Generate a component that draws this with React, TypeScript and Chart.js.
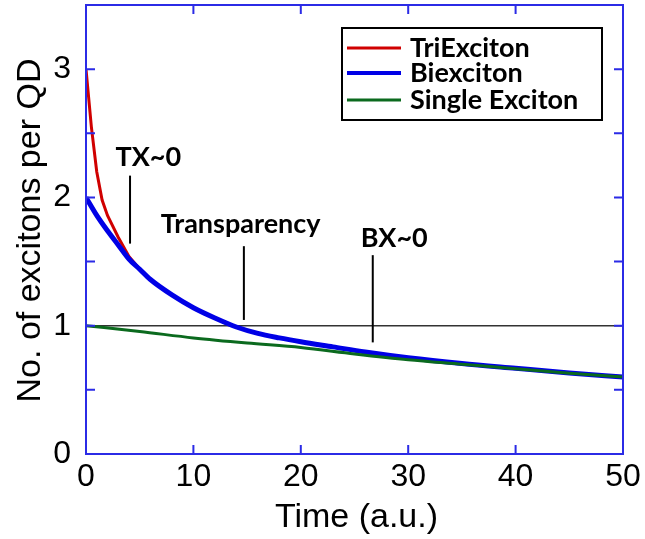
import React, { useEffect, useRef } from 'react';
import { Chart, registerables } from 'chart.js';
Chart.register(...registerables);

// ---- data ----
const triTime = [0, 0.5, 1, 1.5, 2, 3, 4, 5, 6];
const triValues = [3.0, 2.55, 2.2, 1.98, 1.86, 1.69, 1.54, 1.44, 1.36];

const biTime = [0, 1, 2, 3, 4, 5, 6, 8, 10, 12, 14, 16, 18, 20, 23, 26, 30, 35, 40, 45, 50];
const biValues = [2.0, 1.86, 1.74, 1.63, 1.52, 1.44, 1.36, 1.24, 1.14, 1.06, 0.99, 0.94, 0.905, 0.875, 0.835, 0.795, 0.75, 0.705, 0.668, 0.632, 0.6];

const singleTime = [0, 5, 10, 15, 20, 25, 30, 35, 40, 45, 50];
const singleValues = [1.0, 0.955, 0.905, 0.865, 0.83, 0.78, 0.735, 0.7, 0.665, 0.63, 0.6];

const refTime = [0, 50];
const refValues = [1, 1];

const seriesNames = ['TriExciton', 'Biexciton', 'Single Exciton'];
const seriesColors = ['#d00000', '#0000e6', '#0b6a1e'];

const markerLabels = ['TX~0', 'Transparency', 'BX~0'];
const markerTime = [4.1, 14.7, 26.7];
const markerTop = [2.17, 1.62, 1.55];
const markerBottom = [1.64, 1.045, 0.87];
const markerLabelTime = [5.8, 14.4, 28.7];
const markerLabelValue = [2.245, 1.722, 1.616];

const xTicks = [0, 10, 20, 30, 40, 50];
const yTicks = [0, 0.5, 1, 1.5, 2, 2.5, 3, 3.5];

const toXY = (t: number[], v: number[]) => t.map((x, i) => ({ x, y: v[i] }));

const AXIS_BLUE = '#2b2be6';
const TICK_FONT = '"Liberation Sans", Arial, sans-serif';
const BOLD_FONT = 'Lato, "Open Sans", sans-serif';

const decorPlugin = {
  id: 'decor',
  afterDatasetsDraw(chart: any) {
    const { ctx, chartArea, scales } = chart;
    const xs = scales.x;
    const ys = scales.y;
    ctx.save();

    // marker lines
    ctx.strokeStyle = '#000';
    ctx.lineWidth = 2;
    markerTime.forEach((t, i) => {
      const px = xs.getPixelForValue(t);
      ctx.beginPath();
      ctx.moveTo(px, ys.getPixelForValue(markerTop[i]));
      ctx.lineTo(px, ys.getPixelForValue(markerBottom[i]));
      ctx.stroke();
    });
    // marker labels
    ctx.fillStyle = '#000';
    ctx.font = `bold 27px ${BOLD_FONT}`;
    ctx.textAlign = 'center';
    ctx.textBaseline = 'alphabetic';
    markerLabels.forEach((s, i) => {
      ctx.fillText(s, xs.getPixelForValue(markerLabelTime[i]), ys.getPixelForValue(markerLabelValue[i]));
    });

    // frame
    ctx.strokeStyle = AXIS_BLUE;
    ctx.lineWidth = 2;
    ctx.strokeRect(chartArea.left, chartArea.top, chartArea.right - chartArea.left, chartArea.bottom - chartArea.top);
    const tl = 9;
    ctx.beginPath();
    xTicks.forEach((t) => {
      const px = xs.getPixelForValue(t);
      ctx.moveTo(px, chartArea.bottom);
      ctx.lineTo(px, chartArea.bottom - tl);
      ctx.moveTo(px, chartArea.top);
      ctx.lineTo(px, chartArea.top + tl);
    });
    yTicks.forEach((v) => {
      const py = ys.getPixelForValue(v);
      ctx.moveTo(chartArea.left, py);
      ctx.lineTo(chartArea.left + tl, py);
      ctx.moveTo(chartArea.right, py);
      ctx.lineTo(chartArea.right - tl, py);
    });
    ctx.stroke();

    // legend
    const lx = chartArea.right - 281;
    const ly = chartArea.top + 23;
    const lw = 260;
    const lh = 92;
    ctx.fillStyle = '#fff';
    ctx.fillRect(lx, ly, lw, lh);
    ctx.strokeStyle = '#000';
    ctx.lineWidth = 2;
    ctx.strokeRect(lx, ly, lw, lh);
    const rows = [20, 45, 72];
    const widths = [3, 4, 3];
    ctx.textAlign = 'left';
    ctx.textBaseline = 'middle';
    ctx.font = `bold 27px ${BOLD_FONT}`;
    seriesNames.forEach((n, i) => {
      ctx.strokeStyle = seriesColors[i];
      ctx.lineWidth = widths[i];
      ctx.beginPath();
      ctx.moveTo(lx + 5, ly + rows[i]);
      ctx.lineTo(lx + 59, ly + rows[i]);
      ctx.stroke();
      ctx.fillStyle = '#000';
      ctx.fillText(n, lx + 68, ly + rows[i]);
    });

    // axis titles
    ctx.fillStyle = '#000';
    ctx.font = `34px ${TICK_FONT}`;
    ctx.textAlign = 'center';
    ctx.textBaseline = 'alphabetic';
    ctx.fillText('Time (a.u.)', (chartArea.left + chartArea.right) / 2 + 2, 527);
    ctx.save();
    ctx.translate(40, (chartArea.top + chartArea.bottom) / 2 + 1);
    ctx.rotate(-Math.PI / 2);
    ctx.fillText('No. of excitons per QD', 0, 0);
    ctx.restore();

    ctx.restore();
  },
};

export default function App() {
  const ref = useRef<HTMLCanvasElement>(null);
  useEffect(() => {
    if (!ref.current) return;
    const chart = new Chart(ref.current, {
      type: 'line',
      data: {
        datasets: [
          {
            label: 'ref',
            data: toXY(refTime, refValues),
            borderColor: '#333',
            borderWidth: 1.5,
            pointRadius: 0,
            order: 4,
          },
          {
            label: seriesNames[0],
            data: toXY(triTime, triValues),
            borderColor: seriesColors[0],
            borderWidth: 3,
            pointRadius: 0,
            tension: 0,
            order: 3,
          },
          {
            label: seriesNames[1],
            data: toXY(biTime, biValues),
            borderColor: seriesColors[1],
            borderWidth: 5,
            pointRadius: 0,
            cubicInterpolationMode: 'monotone',
            order: 2,
          },
          {
            label: seriesNames[2],
            data: toXY(singleTime, singleValues),
            borderColor: seriesColors[2],
            borderWidth: 3,
            pointRadius: 0,
            cubicInterpolationMode: 'monotone',
            order: 1,
          },
        ],
      },
      options: {
        animation: false,
        responsive: false,
        layout: { padding: { top: 5, right: 22, left: 0, bottom: 0 } },
        plugins: { legend: { display: false }, tooltip: { enabled: false } },
        scales: {
          x: {
            type: 'linear',
            min: 0,
            max: 50,
            grid: { display: false, drawTicks: false },
            border: { display: false },
            ticks: {
              stepSize: 10,
              color: '#000',
              padding: 4,
              maxRotation: 0,
              font: { family: TICK_FONT, size: 32 },
            },
            afterFit: (s: any) => {
              s.height = 85;
              s.paddingLeft = 0;
              s.paddingRight = 0;
            },
          },
          y: {
            type: 'linear',
            min: 0,
            max: 3.5,
            grid: { display: false, drawTicks: false },
            border: { display: false },
            ticks: {
              stepSize: 0.5,
              color: '#000',
              padding: 15,
              font: { family: TICK_FONT, size: 32 },
              callback: (v: any) => (Number.isInteger(v) ? String(v) : ''),
            },
            afterFit: (s: any) => {
              s.width = 86;
              s.paddingTop = 0;
              s.paddingBottom = 0;
            },
          },
        },
      },
      plugins: [decorPlugin],
    });
    return () => chart.destroy();
  }, []);
  return (
    <div style={{ position: 'fixed', left: 0, top: 0, width: 645, height: 539, background: '#fff' }}>
      <canvas ref={ref} width={645} height={539} />
    </div>
  );
}
